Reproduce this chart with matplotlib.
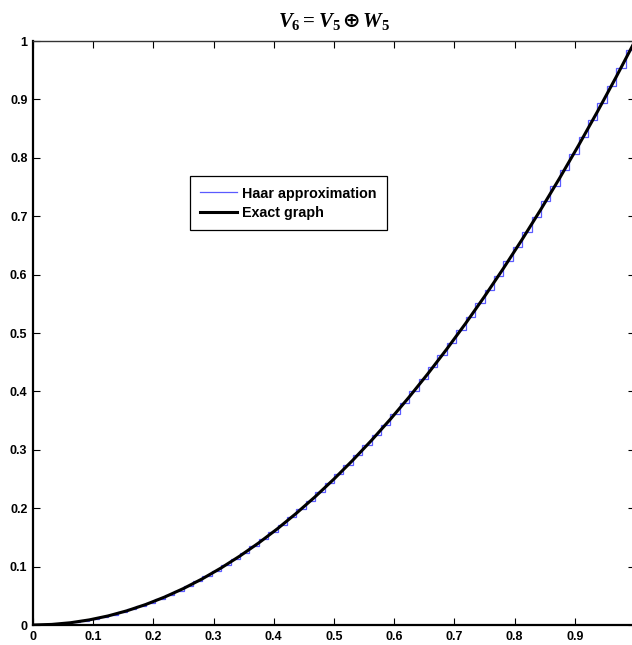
import numpy as np
import matplotlib
matplotlib.use('Agg')
import matplotlib.pyplot as plt

# Haar (V6) coefficients: mean value on each of the 64 dyadic intervals
haar_levels = [
    0.0001, 0.0006, 0.0015, 0.0030, 0.0050, 0.0074, 0.0103, 0.0138,
    0.0177, 0.0221, 0.0269, 0.0323, 0.0382, 0.0445, 0.0514, 0.0587,
    0.0665, 0.0748, 0.0836, 0.0929, 0.1026, 0.1129, 0.1236, 0.1348,
    0.1466, 0.1588, 0.1715, 0.1847, 0.1983, 0.2125, 0.2271, 0.2423,
    0.2579, 0.2740, 0.2906, 0.3077, 0.3253, 0.3433, 0.3619, 0.3809,
    0.4005, 0.4205, 0.4410, 0.4620, 0.4835, 0.5055, 0.5279, 0.5509,
    0.5743, 0.5982, 0.6226, 0.6475, 0.6729, 0.6988, 0.7252, 0.7520,
    0.7794, 0.8072, 0.8355, 0.8643, 0.8936, 0.9234, 0.9537, 0.9845,
]

# exact graph sampled at x = k/32
exact_x = [k / 32 for k in range(33)]
exact_y = [
    0.0000, 0.0010, 0.0039, 0.0088, 0.0156, 0.0244, 0.0352, 0.0479,
    0.0625, 0.0791, 0.0977, 0.1182, 0.1406, 0.1650, 0.1914, 0.2197,
    0.2500, 0.2822, 0.3164, 0.3525, 0.3906, 0.4307, 0.4727, 0.5166,
    0.5625, 0.6104, 0.6602, 0.7119, 0.7656, 0.8213, 0.8789, 0.9385,
    1.0000,
]

xticks = [0, 0.1, 0.2, 0.3, 0.4, 0.5, 0.6, 0.7, 0.8, 0.9]
xtick_labels = ['0', '0.1', '0.2', '0.3', '0.4', '0.5', '0.6', '0.7', '0.8', '0.9']
yticks = [0, 0.1, 0.2, 0.3, 0.4, 0.5, 0.6, 0.7, 0.8, 0.9, 1]
ytick_labels = ['0', '0.1', '0.2', '0.3', '0.4', '0.5', '0.6', '0.7', '0.8', '0.9', '1']

plt.rcParams['font.family'] = ['Liberation Sans', 'DejaVu Sans']
plt.rcParams['font.weight'] = 'bold'
plt.rcParams['mathtext.fontset'] = 'custom'
plt.rcParams['mathtext.rm'] = 'Liberation Serif:bold'
plt.rcParams['mathtext.it'] = 'Liberation Serif:italic:bold'
plt.rcParams['mathtext.bf'] = 'DejaVu Sans:bold'

fig = plt.figure(figsize=(6.32, 6.45), dpi=100)
ax = fig.add_axes([33 / 632, 20 / 645, 602 / 632, 584 / 645])

edges = np.linspace(0, 1, len(haar_levels) + 1)
ax.stairs(haar_levels, edges, color='#5a5aff', linewidth=0.9,
          label='Haar approximation')
ax.plot(exact_x, exact_y, color='black', linewidth=2.2, label='Exact graph')

ax.set_xlim(0, 1)
ax.set_ylim(0, 1)
ax.set_xticks(xticks)
ax.set_xticklabels(xtick_labels)
ax.set_yticks(yticks)
ax.set_yticklabels(ytick_labels)
ax.tick_params(direction='in', length=5, width=0.8, top=True, right=True,
               labelsize=9, pad=4, colors='black')
for lbl in ax.get_xticklabels() + ax.get_yticklabels():
    lbl.set_fontweight('bold')
for side in ['left', 'bottom']:
    ax.spines[side].set_linewidth(1.6)
for side in ['top', 'right']:
    ax.spines[side].set_linewidth(1.0)
    ax.spines[side].set_color('#333333')

ax.set_title('$V_6 = V_5\\,\\mathbf{\u2295}\\,W_5$', fontsize=15, pad=10)

leg = ax.legend(loc='upper left', bbox_to_anchor=(0.26, 0.768),
                fancybox=False, framealpha=1, edgecolor='black',
                prop={'weight': 'bold', 'size': 10.3},
                handlelength=2.6, borderpad=0.7, labelspacing=0.38,
                handletextpad=0.4, borderaxespad=0)
leg.get_frame().set_linewidth(0.9)

fig.savefig('out.png', dpi=100)
